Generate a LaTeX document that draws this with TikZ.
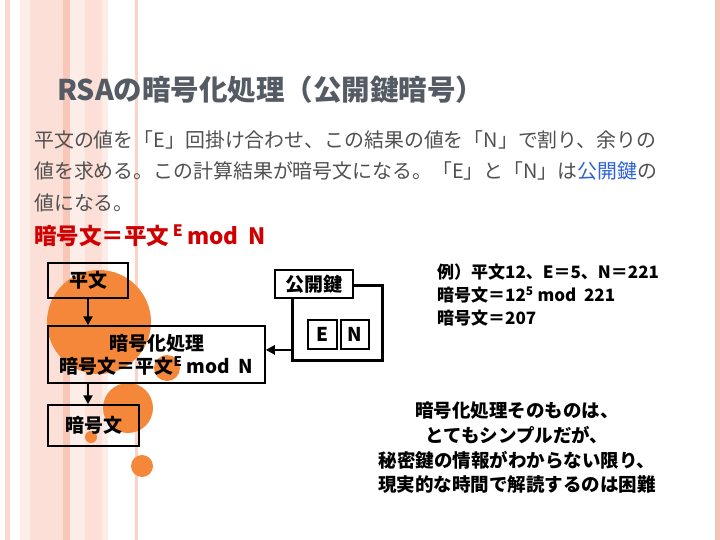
\documentclass[tikz,border=0pt]{standalone}
\usepackage{fontspec}
\setmainfont{Noto Sans CJK JP}
\usetikzlibrary{arrows.meta,positioning,calc}
\definecolor{cStripeLight}{HTML}{FDEDE8}
\definecolor{cStripeMid}{HTML}{FCDFD6}
\definecolor{cStripeDark}{HTML}{F9C7B8}
\definecolor{cStripeRim}{HTML}{F4C3B5}
\definecolor{cBlob}{HTML}{F5873A}
\definecolor{cTitle}{HTML}{555B64}
\definecolor{cBody}{HTML}{505050}
\definecolor{cKey}{HTML}{2F62D8}
\definecolor{cFormula}{HTML}{D00000}

\begin{document}
\begin{tikzpicture}[
    x=1pt, y=-1pt,
    box/.style={draw=black, line width=1.5pt, inner sep=0pt, font=\fontsize{19}{23}\selectfont\bfseries, align=center},
    keybox/.style={draw=black, line width=1.8pt, fill=white, inner sep=0pt, font=\fontsize{19}{23}\selectfont\bfseries},
    frame/.style={draw=black, line width=3pt, inner sep=0pt},
    arr/.style={-{Triangle[length=9pt,width=9pt]}, line width=2.4pt, draw=black},
    line/.style={anchor=west, inner sep=0pt, font=\fontsize{19.9}{24}\selectfont, text=cBody},
    blob/.style={fill=cBlob}
]
\useasboundingbox (0,0) rectangle (720,540);
\fill[white] (0,0) rectangle (720,540);

% background stripes
\fill[cStripeDark!70] (5,0) rectangle (10,540);
\fill[cStripeLight] (20,0) rectangle (30,540);
\fill[cStripeMid] (30,0) rectangle (63,540);
\fill[cStripeDark] (63,0) rectangle (70,540);
\fill[cStripeLight] (70,0) rectangle (85,540);
\fill[cStripeMid] (85,0) rectangle (102,540);
\fill[cStripeLight] (102,0) rectangle (108,540);
\fill[cStripeDark!80] (135,0) rectangle (138,540);
\fill[cStripeRim] (715,0) rectangle (720,540);

% orange blobs
\fill[blob] (99,322) circle (52pt);
\fill[blob] (167,368) circle (13pt);
\fill[blob] (128,408) circle (25pt);
\fill[blob] (91,437) circle (6pt);
\fill[blob] (142,466) circle (11pt);

\node[anchor=west, inner sep=0pt, text=cTitle, font=\fontsize{28.5}{32}\selectfont\bfseries] (title) at (57,90) {RSAの暗号化処理（公開鍵暗号）};

\node[line] (line1) at (34,140) {平文の値を「E」回掛け合わせ、この結果の値を「N」で割り、余りの};
\node[line] (line2) at (34,171) {値を求める。この計算結果が暗号文になる。「E」と「N」は\textcolor{cKey}{公開鍵}の};
\node[line] (line3) at (34,203) {値になる。};
\node[line, text=cFormula, font=\fontsize{22.5}{26}\selectfont\bfseries] (formula) at (34,236) {暗号文＝平文\,\textsuperscript{E}\,mod~~N};

\node[box, minimum width=80pt, minimum height=35pt] (plain) at (88,280.5) {平文};
\node[box, minimum width=217pt, minimum height=57pt] (enc) at (156.5,354.5) {暗号化処理\\暗号文＝平文\textsuperscript{E} mod~~N};
\node[box, minimum width=91pt, minimum height=41pt] (cipher) at (93.5,425.5) {暗号文};

\node[frame, minimum width=90pt, minimum height=75pt] (keyframe) at (337,322.5) {};
\node[keybox, minimum width=78pt, minimum height=28pt] (pubkey) at (314,284) {公開鍵};
\node[keybox, minimum width=29pt, minimum height=29pt] (keyE) at (322.5,334.5) {E};
\node[keybox, minimum width=28pt, minimum height=29pt] (keyN) at (355,334.5) {N};

\draw[arr] (plain) -- (plain |- enc.north);
\draw[arr] (enc.south -| plain.south) -- (cipher.north -| plain.south);
\draw[arr] (keyE.south -| keyframe.west) -- (keyE.south -| enc.east);

\node[anchor=west, inner sep=0pt, align=left, font=\fontsize{17}{23}\selectfont\bfseries] (example) at (437,295)
  {例）平文12、E＝5、N＝221\\暗号文＝12\textsuperscript{5} mod~~221\\暗号文＝207};

\node[inner sep=0pt, align=center, font=\fontsize{18.5}{24.7}\selectfont\bfseries] (remark) at (517,448)
  {暗号化処理そのものは、\\とてもシンプルだが、\\秘密鍵の情報がわからない限り、\\現実的な時間で解読するのは困難};
\end{tikzpicture}
\end{document}
